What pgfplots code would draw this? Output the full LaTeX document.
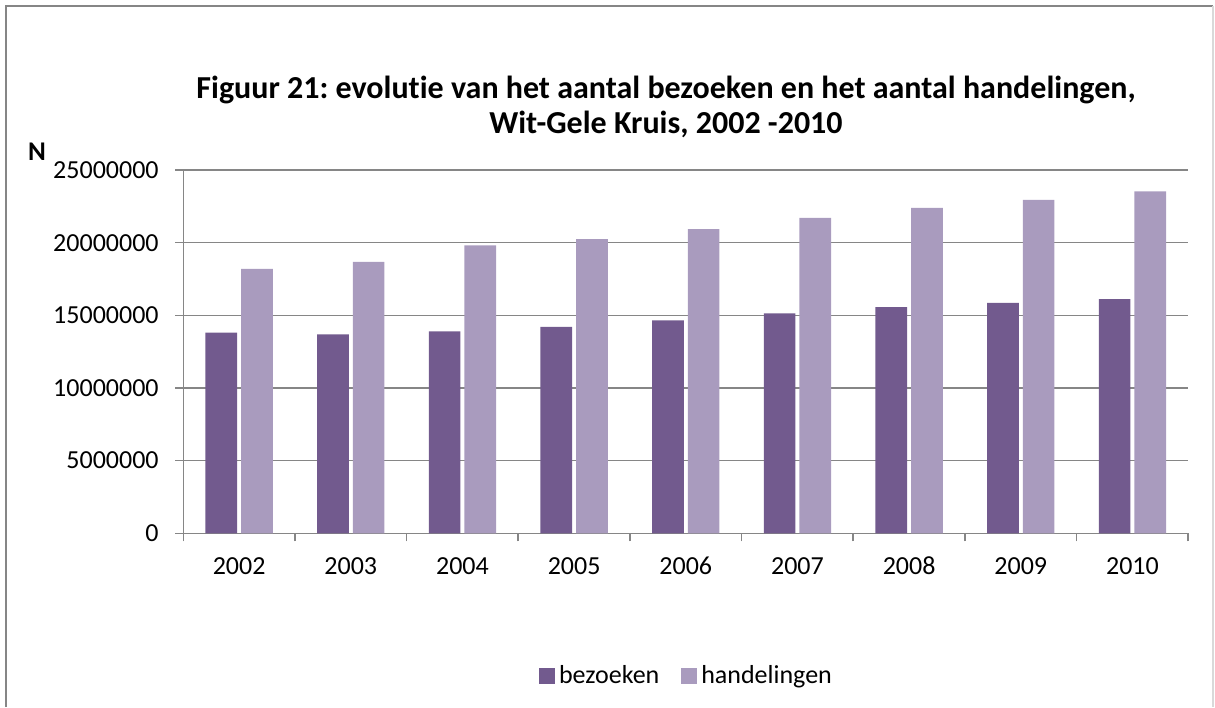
\documentclass[border=0pt]{standalone}
\usepackage{pgfplots}
\pgfplotsset{compat=1.18}
\usepackage{fontspec}
\setmainfont{Carlito}[Ligatures={NoCommon}]
\frenchspacing
\definecolor{bez}{RGB}{114,90,142}
\definecolor{hand}{RGB}{169,155,190}
\definecolor{gridc}{RGB}{134,134,134}
\begin{document}
\begin{tikzpicture}
\useasboundingbox (0,0) rectangle (607.5pt,353.5pt);
\draw[gridc, line width=1pt] (2.75pt,0) -- (2.75pt,350.65pt) -- (606.5pt,350.65pt);
\draw[gray!30, line width=0.6pt] (606.5pt,350.65pt) -- (606.5pt,0);
\node[font=\fontsize{16}{17.5}\selectfont\bfseries, align=center] at (333pt,300.25pt)
 {Figuur 21: evolutie van het aantal bezoeken en het aantal handelingen,\\Wit-Gele Kruis, 2002 -2010};
\node[font=\fontsize{13.5}{15.6}\selectfont\bfseries] at (18.5pt,277.5pt) {N};
\begin{axis}[
  at={(91.65pt,86.85pt)}, anchor=south west,
  scale only axis, width=502.5pt, height=181.65pt,
  ybar, bar width=15.85pt,
  xmin=-0.5, xmax=8.5, ymin=0, ymax=25000000,
  xtick={0,...,8},
  xticklabels={2002,2003,2004,2005,2006,2007,2008,2009,2010},
  minor xtick={-0.5,0.5,...,8.5},
  ytick={0,5000000,10000000,15000000,20000000,25000000},
  yticklabels={0,5000000,10000000,15000000,20000000,25000000},
  scaled y ticks=false,
  axis x line*=bottom, axis y line*=left,
  axis line style={gridc, line width=0.8pt, -},
  tick align=outside,
  major x tick style={draw=none},
  minor x tick style={gridc, line width=0.8pt},
  y tick style={gridc, line width=0.8pt},
  major tick length=4pt, minor tick length=4pt,
  ymajorgrids, grid style={gridc, line width=0.8pt},
  ticklabel style={font=\fontsize{13}{15.6}\selectfont},
  yticklabel style={xshift=-4.8pt},
  xticklabel style={yshift=-4.7pt, anchor=north, text height=8.5pt, text depth=0pt},
  legend style={at={(0.5017,-0.393)}, anchor=center, draw=none,
    font=\fontsize{13}{15.6}\selectfont, legend columns=2,
    /tikz/every even column/.append style={column sep=9pt}},
  legend image code/.code={\fill[#1] (0pt,-4pt) rectangle (8pt,4pt);},
]
\addplot[fill=bez, draw=none] coordinates {(0,13810000) (1,13690000) (2,13900000) (3,14200000) (4,14660000) (5,15140000) (6,15570000) (7,15850000) (8,16120000)};
\addplot[fill=hand, draw=none] coordinates {(0,18190000) (1,18670000) (2,19820000) (3,20250000) (4,20940000) (5,21700000) (6,22390000) (7,22940000) (8,23530000)};
\legend{bezoeken,handelingen}
\end{axis}
\end{tikzpicture}
\end{document}
